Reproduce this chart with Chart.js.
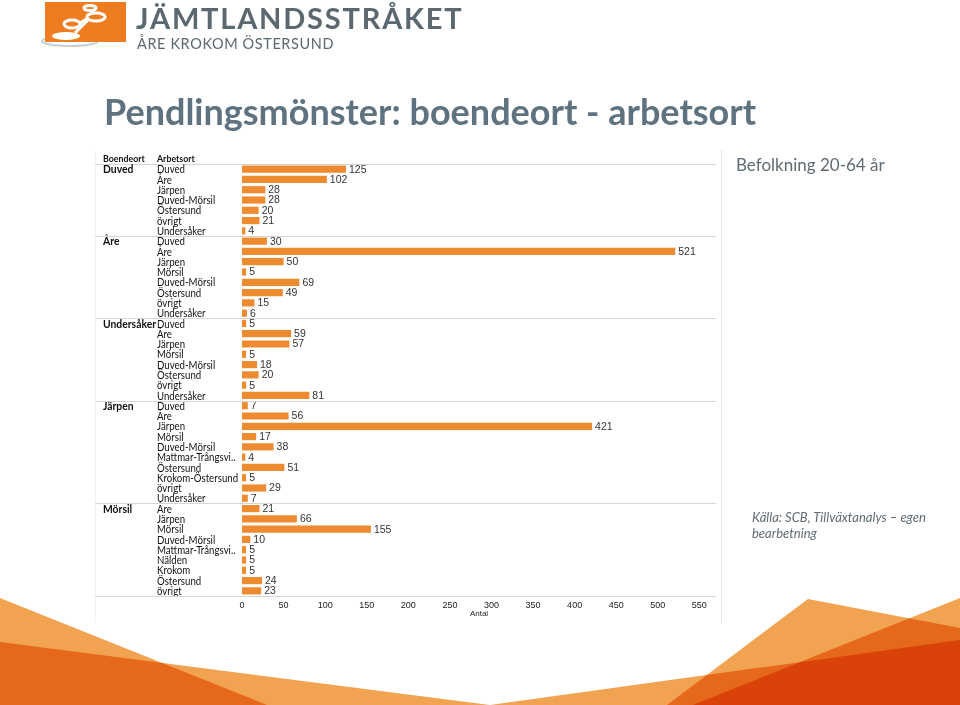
<!DOCTYPE html>
<html>
    <head>
        <meta charset="utf-8">
        <script src="https://cdn.jsdelivr.net/npm/chart.js@4.4.1/dist/chart.umd.min.js"></script>
        <style>
            body { margin: 0; width: 960px; height: 705px; position: relative; overflow: hidden; background: #fff; font-family: Lato, sans-serif; }
            .abs { position: absolute; white-space: nowrap; }
            #brand { left: 136px; top: 0px; font-size: 29px; font-weight: 700; letter-spacing: 1.8px; color: #5b6870; }
            #sub { left: 137px; top: 35px; font-size: 14.5px; letter-spacing: 0.6px; color: #5b6870; }
            #title { left: 104px; top: 89px; font-size: 36px; font-weight: 700; color: #5f7280; }
            #pop { left: 736px; top: 154px; font-size: 17px; color: #5f6b73; }
            #src { left: 752px; top: 509px; font-size: 13px; font-style: italic; color: #5f6b73; line-height: 16px; white-space: normal; width: 200px; }
            #frame { left: 95px; top: 150px; width: 625px; height: 473px; border-left: 1px solid #f3f3f3; border-right: 1px solid #e6e6e6; }
            canvas { position: absolute; left: 95px; top: 150px; }
        </style>
    </head>

    <body>
        <svg class="abs" style="left:0;top:0" width="140" height="52">
            <ellipse cx="70" cy="41" rx="28" ry="5" fill="none" stroke="#c9ced2" stroke-width="2"/>
            <rect x="45" y="2" width="81" height="40" fill="#ee7d22"/>
            <g fill="none" stroke="#fff" stroke-width="3">
                <ellipse cx="72" cy="24" rx="8" ry="4"/>
                <ellipse cx="96" cy="17" rx="9" ry="4"/>
                <ellipse cx="90" cy="8" rx="6" ry="2.5"/>
                <path d="M80 23 L88 18 M92 11 L94 13"/>
            </g>
            <ellipse cx="66" cy="36" rx="14" ry="4" fill="#fff"/>
            <path d="M75 33 L88 20" stroke="#fff" stroke-width="3"/>
        </svg>
        <div id="brand" class="abs">JÄMTLANDSSTRÅKET</div>
        <div id="sub" class="abs">ÅRE KROKOM ÖSTERSUND</div>
        <div id="title" class="abs">Pendlingsmönster: boendeort - arbetsort</div>
        <div id="pop" class="abs">Befolkning 20-64 år</div>
        <div id="src" class="abs">Källa: SCB, Tillväxtanalys – egen bearbetning</div>

        <svg class="abs" style="left:0;top:0" width="960" height="705">
            <g fill="#f2a352">
                <polygon points="0,598 267,705 0,705" style="mix-blend-mode:multiply"/>
                <polygon points="0,642 490,705 960,640 960,705 0,705" style="mix-blend-mode:multiply"/>
                <polygon points="808,599 960,628 960,705 667,705" style="mix-blend-mode:multiply"/>
                <polygon points="960,598 693,705 960,705" style="mix-blend-mode:multiply"/>
            </g>
        </svg>

        <div id="frame" class="abs"></div>
        <canvas id="myChart" width="625" height="475"></canvas>

        <script>
            // Boendeort groups and how many arbetsort rows each has
            var groups = ["Duved", "Åre", "Undersåker", "Järpen", "Mörsil"];
            var groupSizes = [7, 8, 8, 10, 9];

            var arbetsort = [
                "Duved", "Åre", "Järpen", "Duved-Mörsil", "Östersund", "övrigt", "Undersåker",
                "Duved", "Åre", "Järpen", "Mörsil", "Duved-Mörsil", "Östersund", "övrigt", "Undersåker",
                "Duved", "Åre", "Järpen", "Mörsil", "Duved-Mörsil", "Östersund", "övrigt", "Undersåker",
                "Duved", "Åre", "Järpen", "Mörsil", "Duved-Mörsil", "Mattmar-Trångsvi..", "Östersund", "Krokom-Östersund", "övrigt", "Undersåker",
                "Åre", "Järpen", "Mörsil", "Duved-Mörsil", "Mattmar-Trångsvi..", "Nälden", "Krokom", "Östersund", "övrigt"
            ];
            var antal = [
                125, 102, 28, 28, 20, 21, 4,
                30, 521, 50, 5, 69, 49, 15, 6,
                5, 59, 57, 5, 18, 20, 5, 81,
                7, 56, 421, 17, 38, 4, 51, 5, 29, 7,
                21, 66, 155, 10, 5, 5, 5, 24, 23
            ];
            var xMax = 570;
            var xTicks = [0, 50, 100, 150, 200, 250, 300, 350, 400, 450, 500, 550];

            var labelFont = "Lato, sans-serif";
            var numFont = "'Liberation Sans', Arial, sans-serif";

            // draws text squeezed a bit sideways, the source uses a narrow font
            function narrowText(ctx, text, x, y, sx) {
                ctx.save();
                ctx.translate(x, y);
                ctx.scale(sx, 1);
                ctx.fillText(text, 0, 0);
                ctx.restore();
            }

            // category names, group names, header and the thin separator lines
            var groupPlugin = {
                id: 'groups',
                afterDraw: function(chart) {
                    var ctx = chart.ctx;
                    var y = chart.scales.y;
                    var step = y.getPixelForValue(1) - y.getPixelForValue(0);
                    var right = chart.chartArea.right;
                    ctx.save();
                    ctx.strokeStyle = '#d6d6d6';
                    ctx.lineWidth = 1;
                    ctx.textBaseline = 'middle';
                    ctx.fillStyle = '#111';

                    var top = Math.round(y.getPixelForValue(0) - step / 2) + 0.5;
                    ctx.beginPath();
                    ctx.moveTo(0, top);
                    ctx.lineTo(right, top);
                    ctx.stroke();
                    ctx.font = 'bold 10px ' + labelFont;
                    narrowText(ctx, 'Boendeort', 8, top - 6, 0.88);
                    narrowText(ctx, 'Arbetsort', 62, top - 6, 0.88);

                    ctx.font = '11.5px ' + labelFont;
                    arbetsort.forEach(function(lab, i) {
                        narrowText(ctx, lab, 62, y.getPixelForValue(i) + 0.5, 0.84);
                    });

                    var start = 0;
                    ctx.font = 'bold 11.5px ' + labelFont;
                    groups.forEach(function(g, i) {
                        narrowText(ctx, g, 8, y.getPixelForValue(start) + 0.5, 0.9);
                        start += groupSizes[i];
                        var bottom = Math.round(y.getPixelForValue(start - 1) + step / 2) + 0.5;
                        ctx.beginPath();
                        ctx.moveTo(0, bottom);
                        ctx.lineTo(right, bottom);
                        ctx.stroke();
                    });
                    ctx.restore();
                },
                afterDatasetsDraw: function(chart) {
                    var ctx = chart.ctx;
                    var meta = chart.getDatasetMeta(0);
                    ctx.save();
                    ctx.font = '10.5px ' + numFont;
                    ctx.fillStyle = '#333';
                    ctx.textBaseline = 'middle';
                    meta.data.forEach(function(bar, i) {
                        ctx.fillText(antal[i], bar.x + 3, bar.y + 0.5);
                    });
                    ctx.restore();
                }
            };

            var ctx = document.getElementById('myChart').getContext('2d');
            var chart = new Chart(ctx, {
                type: "bar",
                data: {
                    labels: arbetsort,
                    datasets: [
                        {
                            label: "Antal",
                            backgroundColor: "#ee8a30",
                            barPercentage: 0.7,
                            categoryPercentage: 1,
                            data: antal
                        }
                    ]
                },
                options: {
                    indexAxis: 'y',
                    responsive: false,
                    animation: false,
                    layout: { padding: { left: 62, top: 14, right: 4, bottom: 0 } },
                    plugins: {
                        legend: { display: false },
                        tooltip: { enabled: false }
                    },
                    scales: {
                        x: {
                            min: 0,
                            max: xMax,
                            grid: { display: false, drawTicks: false },
                            border: { display: false },
                            ticks: { padding: 4, color: '#222', font: { family: numFont, size: 9 } },
                            title: { display: true, text: 'Antal', color: '#222', font: { family: numFont, size: 8 }, padding: { top: 0, bottom: 6 } },
                            afterBuildTicks: function(s) {
                                s.ticks = xTicks.map(function(v) { return { value: v }; });
                            },
                            afterFit: function(s) { s.height = 29; }
                        },
                        y: {
                            grid: { display: false, drawTicks: false },
                            border: { display: false },
                            ticks: { display: false },
                            afterFit: function(s) { s.width = 85; }
                        }
                    }
                },
                plugins: [groupPlugin]
            });
        </script>
    </body>
</html>
